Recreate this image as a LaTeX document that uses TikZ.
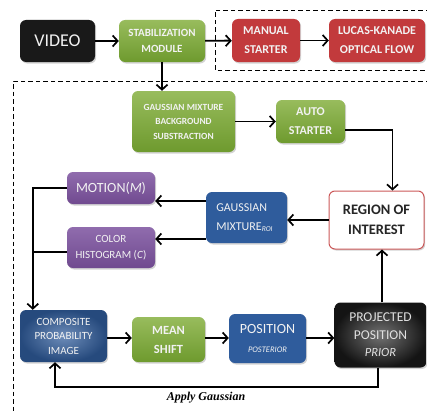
\documentclass[tikz,border=0pt]{standalone}
\usepackage{fontspec}
\setmainfont{Carlito}
\newfontfamily\serifbi{Liberation Serif}
\usetikzlibrary{arrows.meta,shadows,calc,shadings}
\definecolor{grn}{HTML}{86B040}
\definecolor{grnD}{HTML}{6E9A2E}
\definecolor{redb}{HTML}{C23A3C}
\definecolor{blueb}{HTML}{2F5C9C}
\definecolor{purb}{HTML}{7C529F}
\definecolor{txtw}{HTML}{F2F2F2}
\begin{document}
\begin{tikzpicture}[x=1pt,y=-1pt,
  box/.style={rounded corners=6pt, inner sep=1pt, align=center, text=txtw,
    drop shadow={shadow xshift=1.2pt,shadow yshift=-1.5pt,opacity=0.35}},
  greenbox/.style={box, top color=grn!85!white, bottom color=grnD},
  redbox/.style={box, fill=redb},
  bluebox/.style={box, fill=blueb},
  purbox/.style={box, top color=purb!85!white, bottom color=purb!90!black},
  arr/.style={line width=1.9pt, -{Straight Barb[length=5pt,width=11pt,line width=1.7pt]}},
  ln/.style={line width=1.9pt},
  dsh/.style={line width=0.8pt, dash pattern=on 4.5pt off 3pt}
]
\useasboundingbox (0,0) rectangle (427,412);

% dashed regions
\draw[dsh] (430,10) -- (215,10) -- (215,70) -- (430,70);
\draw[dsh] (430,81) -- (13,81) -- (13,415);

% nodes
\node[box, fill=black!90, minimum width=75pt, minimum height=42pt, font=\fontsize{18}{20}\selectfont] (video) at (57.5,41) {VIDEO};
\node[greenbox, minimum width=86pt, minimum height=42pt, font=\bfseries\fontsize{11}{16}\selectfont] (stab) at (162,41) {STABILIZATION\\MODULE};
\node[redbox, minimum width=68pt, minimum height=43pt, font=\bfseries\fontsize{12}{19}\selectfont] (manual) at (266,40.5) {MANUAL\\STARTER};
\node[redbox, minimum width=96pt, minimum height=43pt, font=\bfseries\fontsize{12}{19}\selectfont] (lk) at (377,40.5) {LUCAS-KANADE\\OPTICAL FLOW};
\node[greenbox, minimum width=103pt, minimum height=61pt, font=\bfseries\fontsize{9.4}{14.5}\selectfont] (gmbs) at (183.5,121.5) {GAUSSIAN MIXTURE\\BACKGROUND\\SUBSTRACTION};
\node[greenbox, minimum width=69pt, minimum height=43pt, font=\bfseries\fontsize{12}{19}\selectfont] (auto) at (310.5,121.5) {AUTO\\STARTER};
\node[box, fill=white, draw=redb!85, line width=1pt, text=black!85, minimum width=95pt, minimum height=58pt, font=\bfseries\fontsize{14.5}{20}\selectfont] (roi) at (376.5,220) {REGION OF\\INTEREST};
\node[bluebox, minimum width=81pt, minimum height=51pt, align=left, font=\fontsize{12}{19}\selectfont] (gm) at (246.5,217.5) {GAUSSIAN\\MIXTURE{\fontsize{7.5}{8}\selectfont\itshape\raisebox{-1.5pt}{ROI}}\hspace*{4pt}};
\node[purbox, minimum width=88pt, minimum height=32pt, font=\fontsize{14}{16}\selectfont] (motion) at (111,188) {MOTION(\textit{M})};
\node[purbox, minimum width=88pt, minimum height=41pt, font=\fontsize{11}{16}\selectfont] (color) at (111,247.5) {COLOR\\HISTOGRAM (\textit{C})};
\node[box, inner color=blueb!70!white, outer color=blueb!80!black, minimum width=87pt, minimum height=52pt, font=\fontsize{11}{14.5}\selectfont] (comp) at (63.5,336) {COMPOSITE\\PROBABILITY\\IMAGE};
\node[greenbox, minimum width=73pt, minimum height=45pt, font=\bfseries\fontsize{12.5}{19}\selectfont] (mean) at (168.5,339.5) {MEAN\\SHIFT};
\node[bluebox, minimum width=77pt, minimum height=49pt, font=\fontsize{14}{17}\selectfont] (pos) at (267.5,338.5) {POSITION\\[2pt]{\fontsize{8.5}{10}\selectfont\itshape POSTERIOR}};
\node[box, inner color=black!55, outer color=black!92, minimum width=92pt, minimum height=65pt, text=white!88!black, font=\fontsize{13.5}{17.5}\selectfont] (proj) at (380.5,335) {PROJECTED\\POSITION\\{\itshape\fontsize{12.5}{14}\selectfont PRIOR}};

% connectors
\draw[arr] (video) -- (stab);
\draw[arr] (stab) -- (manual);
\draw[arr] (manual) -- (lk);
\draw[arr] (stab.south) -- (stab.south |- gmbs.north);
\draw[arr] (gmbs.east |- auto.west) -- (auto.west);
\coordinate (a1) at ($(auto.east)+(0,8.5)$);
\coordinate (r1) at ($(roi.north)+(16,0)$);
\draw[arr] (a1) -| (r1);
\draw[arr] (roi.west) -- (roi.west -| gm.east);
\coordinate (g1) at ($(gm.west)+(0,-16.5)$);
\coordinate (g2) at ($(gm.west)+(0,21.5)$);
\draw[arr] (g1) -- (g1 -| motion.east);
\draw[arr] (g2) -- (g2 -| color.east);
\draw[ln] (motion.west) -- ++(-34,0) coordinate (lj);
\coordinate (c1) at ($(color.west)+(0,4.5)$);
\draw[ln] (c1) -- (c1 -| lj);
\draw[arr] ($(lj)+(0,-0.95)$) -- (lj |- comp.north);
\coordinate (h1) at ($(comp.east)+(0,2)$);
\draw[arr] (h1) -- (h1 -| mean.west);
\draw[arr] (h1 -| mean.east) -- (h1 -| pos.west);
\draw[arr] (h1 -| pos.east) -- (h1 -| proj.west);
\coordinate (p1) at ($(proj.north)+(1.5,0)$);
\draw[arr] (p1) -- (p1 |- roi.south);
\draw[arr] ($(proj.south)+(-2.5,0)$) -- ++(0,19.5) coordinate (gb) -| ($(comp.south)+(-8.5,0)$);
\node[font=\serifbi\bfseries\itshape\fontsize{12}{14}\selectfont, anchor=north] (apply) at (206,388.5) {Apply Gaussian};
\end{tikzpicture}
\end{document}
